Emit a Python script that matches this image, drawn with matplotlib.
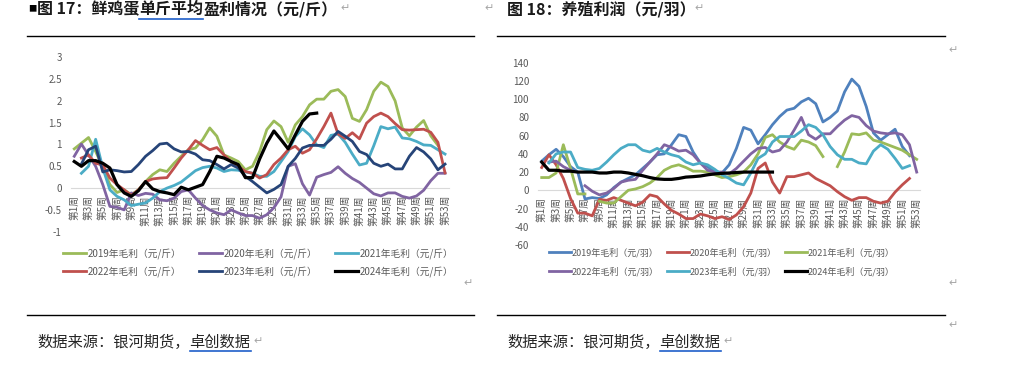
import numpy as np
import matplotlib
matplotlib.use('Agg')
import matplotlib.pyplot as plt
from matplotlib.lines import Line2D
from matplotlib.ticker import FuncFormatter

plt.rcParams['font.family'] = ['Noto Sans CJK SC', 'DejaVu Sans']

# ---------------- data ----------------
nan = np.nan
weeks = np.arange(1, 54)
week_ticks = weeks[::2]
week_labels = [f'第{w}周' for w in week_ticks]

# 图17 鲜鸡蛋单斤平均盈利 (元/斤)
egg_2019 = [0.9, 1.03, 1.16, 0.84, 0.48, 0.08, -0.1, -0.04, -0.15, -0.04,
            0.15, 0.31, 0.42, 0.38, 0.57, 0.73, 0.88, 0.92, 1.11, 1.38,
            1.19, 0.76, 0.69, 0.61, 0.42, 0.5, 0.84, 1.34, 1.54, 1.41,
            1.05, 1.45, 1.64, 1.91, 2.04, 2.04, 2.22, 2.26, 2.1, 1.6,
            1.53, 1.8, 2.22, 2.43, 2.33, 2.0, 1.38, 1.2, 1.4, 1.55,
            1.2, 0.98, nan]
egg_2020 = [0.73, 1.01, 0.76, 0.5, 0.08, -0.42, -0.44, -0.5, -0.11, -0.17,
            -0.12, -0.14, -0.27, -0.29, -0.23, -0.08, -0.04, -0.23, -0.4, -0.5,
            -0.57, -0.61, -0.5, -0.57, -0.63, -0.63, -0.69, -0.61, -0.45, -0.2,
            0.5, 0.56, 0.1, -0.16, 0.25, 0.31, 0.36, 0.49, 0.34, 0.22,
            0.13, 0.0, -0.13, -0.18, -0.11, -0.11, -0.19, -0.23, -0.18, -0.05,
            0.17, 0.34, 0.34]
egg_2021 = [nan, 0.34, 0.5, 1.12, 0.46, -0.04, -0.19, -0.27, -0.4, -0.37,
            -0.34, -0.23, -0.08, 0.0, 0.06, 0.14, 0.27, 0.4, 0.47, 0.5,
            0.46, 0.38, 0.42, 0.41, 0.37, 0.34, 0.27, 0.27, 0.38, 0.61,
            0.84, 1.18, 1.36, 1.22, 0.99, 0.93, 1.21, 1.24, 1.05, 0.78,
            0.53, 0.57, 0.97, 1.41, 1.36, 1.4, 1.15, 1.13, 1.07, 0.99,
            0.98, 0.88, 0.78]
egg_2022 = [nan, 0.69, 0.76, 0.57, 0.53, 0.23, 0.08, -0.04, -0.17, -0.04,
            0.15, 0.21, 0.23, 0.24, 0.46, 0.69, 0.88, 1.09, 0.98, 0.88,
            0.93, 0.76, 0.61, 0.5, 0.38, 0.34, 0.23, 0.31, 0.54, 0.69,
            0.88, 0.96, 0.8, 0.88, 1.13, 1.41, 1.72, 1.24, 1.14, 1.27,
            1.13, 1.49, 1.64, 1.72, 1.64, 1.48, 1.34, 1.33, 1.34, 1.35,
            1.28, 1.05, 0.35]
egg_2023 = [nan, 0.55, 0.88, 0.96, 0.37, 0.42, 0.4, 0.37, 0.38, 0.54,
            0.73, 0.86, 1.01, 1.03, 0.9, 0.83, 0.84, 0.78, 0.65, 0.63,
            0.54, 0.44, 0.54, 0.46, 0.27, 0.15, 0.02, -0.11, -0.03, 0.08,
            0.5, 0.68, 0.92, 0.98, 0.98, 0.98, 1.12, 1.3, 1.19, 1.07,
            0.84, 0.77, 0.57, 0.5, 0.55, 0.44, 0.44, 0.73, 0.93, 0.83,
            0.67, 0.42, 0.55]
egg_2024 = [0.61, 0.5, 0.63, 0.63, 0.57, 0.46, 0.08, -0.11, -0.19, -0.06,
            0.15, -0.02, -0.08, -0.11, -0.15, 0.02, -0.04, 0.02, 0.08, 0.38,
            0.73, 0.69, 0.61, 0.54, 0.24, 0.24, 0.67, 1.03, 1.31, 1.11,
            0.9, 1.22, 1.53, 1.7, 1.72] + [nan] * 18

# 图18 养殖利润 (元/羽)
farm_2019 = [32, 39, 45, 37, 26, 20, -9.5, -8, -9, -5,
             3, 9, 13, 17, 24, 31, 39, 40, 50, 61,
             59, 42, 30, 26, 20, 19, 28, 46, 69, 66,
             51, 61, 72, 81, 88, 90, 97, 101, 95, 75,
             80, 87, 108, 122, 114, 92, 63, 55, 61, 67,
             48, 38, nan]
farm_2020 = [25, 39, 28, 13, -9, -25, -25, -28, -10, -11,
             -8, -11, -14, -17, -13, -5, -7, -15, -22, -26,
             -31, -31, -26, -28, -31, -29, -32, -27, -18, -3,
             24, 30, 9, -3, 15, 15, 17, 19, 13, 9,
             5, -1.5, -7, -11, -8, -8, -12, -14, -12, -2,
             6, 13, nan]
farm_2021 = [14, 14, 19, 50, 24, -4, -4, nan, -12, -14,
             -14, -7, 0, 1.5, 4, 8, 14, 22, 26, 28,
             25, 21, 21, 20, 17, 14, 15, 17, 20, 28,
             40, 58, 61, 53, 48, 45, 55, 53, 49, 37,
             nan, 26, 42, 62, 61, 63, 55, 53, 50, 47,
             44, 39, 34]
farm_2022 = [nan, 31, 32, 26, 22, nan, 5, -1, -5, -3,
             2, 9, 11, 12, 22, 31, 40, 50, 47, 43,
             44, 39, 30, 22, 20, 20, 18, 24, 32, 40,
             46, 47, 42, 44, 53, 66, 80, 61, 56, 62,
             62, 70, 77, 82, 80, 71, 65, 63, 62, 63,
             61, 50, 20]
farm_2023 = [nan, 30, 40, 42, 42, 25, 23, 22, 24, 31,
             39, 46, 50, 50, 44, 42, 46, 42, 39, 37,
             31, 28, 30, 28, 23, 17, 13, 8, 6, 19,
             35, 40, 53, 59, 59, 59, 65, 72, 69, 61,
             48, 39, 34, 34, 30, 29, 43, 50, 45, 35,
             24, 27, nan]
farm_2024 = [31, 22, 22, 21, 21, 20, 20, 20, 19, 19,
             20, 20, 19, 17.5, 16, 14, 12.5, 12, 12, 13,
             14.5, 15, 15.7, 17, 18, 18.6, 19, 19.5, 20, 20,
             20, 20, 20] + [nan] * 20

egg_series = [('2019年毛利（元/斤）', egg_2019, '#9BBB59'),
              ('2020年毛利（元/斤）', egg_2020, '#8064A2'),
              ('2021年毛利（元/斤）', egg_2021, '#4BACC6'),
              ('2022年毛利（元/斤）', egg_2022, '#C0504D'),
              ('2023年毛利（元/斤）', egg_2023, '#264478'),
              ('2024年毛利（元/斤）', egg_2024, '#000000')]
farm_series = [('2019年毛利（元/羽）', farm_2019, '#4F81BD'),
               ('2020年毛利（元/羽）', farm_2020, '#C0504D'),
               ('2021年毛利（元/羽）', farm_2021, '#9BBB59'),
               ('2022年毛利（元/羽）', farm_2022, '#8064A2'),
               ('2023年毛利（元/羽）', farm_2023, '#4BACC6'),
               ('2024年毛利（元/羽）', farm_2024, '#000000')]

# ---------------- figure ----------------
W, H = 1015, 372
fig = plt.figure(figsize=(W / 100, H / 100), dpi=100)


def fx(x):
    return x / W


def fy(y):
    return 1 - y / H


def box(x0, y0, x1, y1):
    return [fx(x0), fy(y1), (x1 - x0) / W, (y1 - y0) / H]


def draw(ax, series, ylim, yticks, fmt):
    lines = []
    for name, vals, c in series:
        lw = 2.3 if c == '#000000' else 2.0
        ln, = ax.plot(weeks, np.array(vals, dtype=float), color=c, lw=lw,
                      label=name, solid_joinstyle='round')
        lines.append(ln)
    for s in ['top', 'right', 'left']:
        ax.spines[s].set_visible(False)
    # category axis crosses at 0, labels hang below it
    ax.spines['bottom'].set_position(('data', 0))
    ax.spines['bottom'].set_color('#D9D9D9')
    ax.spines['bottom'].set_zorder(0)
    ax.set_xlim(0.5, 53.5)
    ax.set_ylim(*ylim)
    ax.set_yticks(yticks)
    ax.yaxis.set_major_formatter(FuncFormatter(fmt))
    ax.set_xticks(week_ticks)
    ax.set_xticklabels(week_labels)
    ax.tick_params(length=0, labelcolor='#595959', labelsize=7)
    ax.tick_params(axis='y', pad=6.5)
    ax.tick_params(axis='x', pad=5, labelrotation=90)
    for lab in ax.get_xticklabels():
        lab.set_va('top')
    ax.patch.set_alpha(0)
    return lines


ax1 = fig.add_axes(box(70.7, 57.3, 448.6, 231.7))
l1 = draw(ax1, egg_series, (-1, 3), np.arange(-1, 3.01, 0.5), lambda v, p: f'{v:g}')
ax2 = fig.add_axes(box(538.1, 62.7, 920.3, 245))
l2 = draw(ax2, farm_series, (-60, 140), np.arange(-60, 141, 20), lambda v, p: f'{v:.0f}')

# legends: row-wise order with 3 columns
order = [0, 3, 1, 4, 2, 5]
fig.legend([l1[i] for i in order], [l1[i].get_label() for i in order],
           loc='upper left', bbox_to_anchor=(fx(63), fy(248)), ncol=3,
           frameon=False, fontsize=7, handlelength=2.4, handletextpad=0.1,
           columnspacing=1.85, borderpad=0, borderaxespad=0, labelspacing=0.75,
           labelcolor='#595959')
fig.legend([l2[i] for i in order], [l2[i].get_label() for i in order],
           loc='upper left', bbox_to_anchor=(fx(549), fy(248)), ncol=3,
           frameon=False, fontsize=6.5, handlelength=2.4, handletextpad=0.1,
           columnspacing=0.95, borderpad=0, borderaxespad=0, labelspacing=1.0,
           labelcolor='#595959')

# ---------------- page decorations ----------------
renderer = fig.canvas.get_renderer()


def hline(x0, x1, y, color='black', lw=1.0):
    fig.add_artist(Line2D([fx(x0), fx(x1)], [fy(y), fy(y)], color=color, lw=lw))


def txt(x, y, s, **kw):
    return fig.text(fx(x), fy(y), s, va='center', ha='left', **kw)


def right_edge(t):
    return t.get_window_extent(renderer).x1


def enter_mark(x, y):
    txt(x, y, '↵', fontsize=8, color='#A6A6A6', family='DejaVu Sans')


def linked_line(x, y, plain, link, tail, uline_y, **kw):
    # plain text, then an underlined (hyperlink) part, then the rest
    t = txt(x, y, plain, **kw)
    x_link = right_edge(t)
    t2 = txt(x_link, y, link, **kw)
    x_end = right_edge(t2)
    hline(x_link, x_end, uline_y, color='#1F5FC9', lw=1.2)
    if tail:
        x_end = right_edge(txt(x_end, y, tail, **kw))
    enter_mark(x_end + 3, y - 1)


for x0, x1 in [(27, 474), (497, 945)]:
    hline(x0, x1, 36)
    hline(x0, x1, 315)

title_kw = dict(fontsize=11.5, fontweight='bold', color='#1a1a1a')
txt(28, 9, '■', fontsize=6, color='black')
linked_line(37, 9, '图 17：鲜鸡蛋', '单斤平均', '盈利情况（元/斤）', 18.5, **title_kw)

enter_mark(484, 8)
txt(507, 9, '图 18：养殖利润（元/羽）', **title_kw)
enter_mark(694, 8)

foot_kw = dict(fontsize=11, color='#262626')
for x0 in [37, 507]:
    linked_line(x0, 342, '数据来源：银河期货，', '卓创数据', '', 350.5, **foot_kw)

for x, y in [(463, 283), (948, 50), (948, 283), (948, 325)]:
    enter_mark(x, y)

fig.savefig('out.png', dpi=100)
